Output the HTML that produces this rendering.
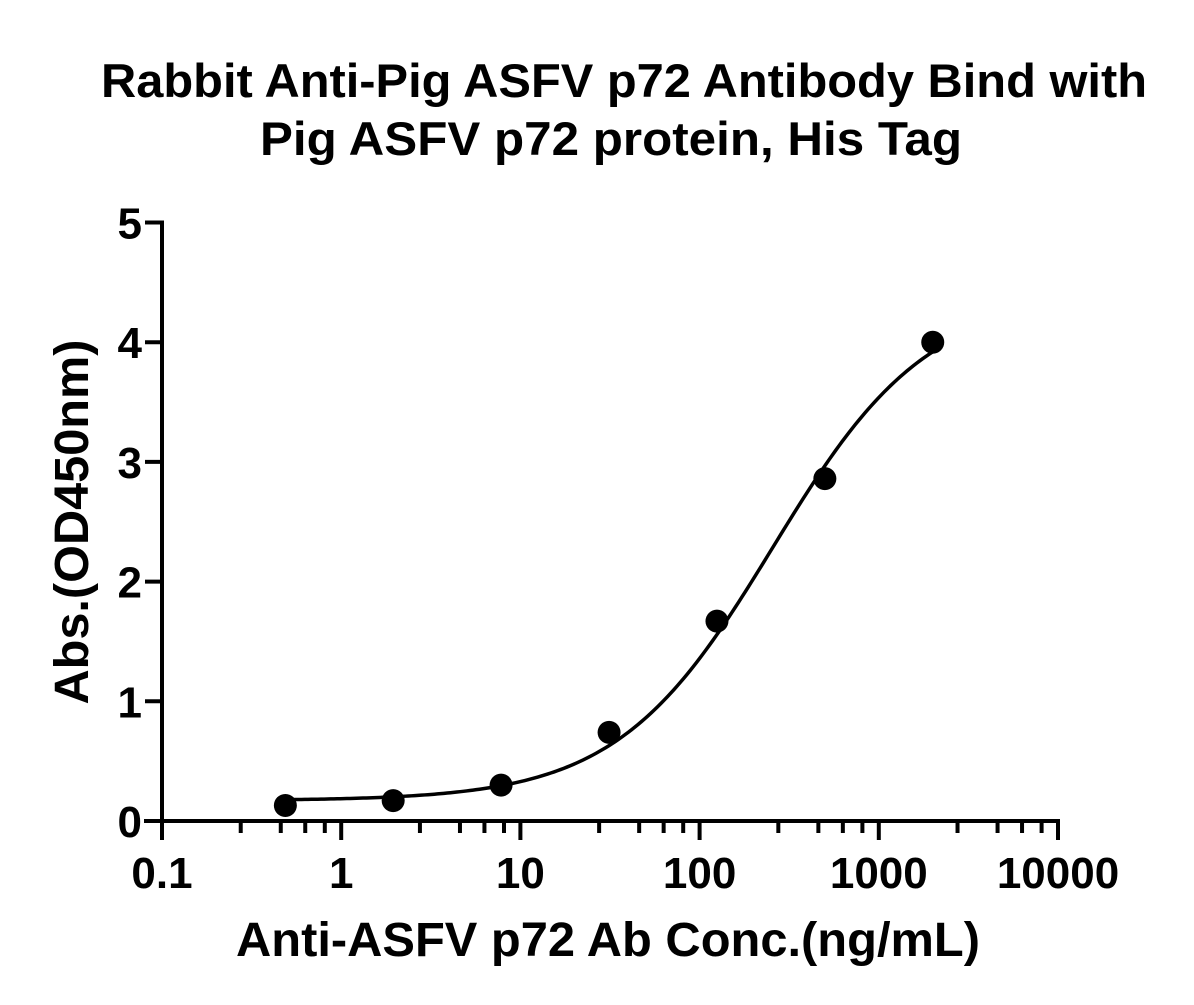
<!DOCTYPE html>
<html><head><meta charset="utf-8"><style>
body{margin:0;background:#fff;}
svg{display:block;font-family:"Liberation Sans",Arial,sans-serif;font-weight:bold;}
</style></head><body>
<svg id="chart" width="1194" height="1005" viewBox="0 0 1194 1005">
<text x="624" y="97" font-size="47" text-anchor="middle" textLength="1046" lengthAdjust="spacingAndGlyphs">Rabbit Anti-Pig ASFV p72 Antibody Bind with</text>
<text x="611" y="155" font-size="47" text-anchor="middle" textLength="702" lengthAdjust="spacingAndGlyphs">Pig ASFV p72 protein, His Tag</text>
<text x="608" y="956" font-size="48" text-anchor="middle" textLength="744" lengthAdjust="spacingAndGlyphs">Anti-ASFV p72 Ab Conc.(ng/mL)</text>
<text transform="translate(88,522) rotate(-90)" font-size="48" text-anchor="middle" textLength="365" lengthAdjust="spacingAndGlyphs">Abs.(OD450nm)</text>
<g id="axes"></g>
<g id="marks"></g>
</svg>
<script>
const xTickValues=[0.1,1,10,100,1000,10000];
const xTickLabels=["0.1","1","10","100","1000","10000"];
const xMinorMultipliers=[2.75,4.6,6.3,8.1];
const yTickValues=[0,1,2,3,4,5];
const concentrations=[0.488,1.95,7.8,31.25,125,500,2000];
const absorbances=[0.13,0.17,0.30,0.74,1.67,2.86,4.00];
const fitBottom=0.17, fitTop=4.4, fitEC50=256, fitHill=1.0;

const NS="http://www.w3.org/2000/svg";
const X0=162, DEC=179.2, Y0=821, YU=119.7;
function xs(v){return X0+Math.log10(v/0.1)*DEC;}
function ys(v){return Y0-v*YU;}
function mk(tag,attrs,parent){const e=document.createElementNS(NS,tag);for(const k in attrs)e.setAttribute(k,attrs[k]);parent.appendChild(e);return e;}
const axes=document.getElementById('axes'), marks=document.getElementById('marks');

let l=mk('line',{x1:X0,y1:ys(5)-2,x2:X0,y2:Y0+2,stroke:'#000','stroke-width':4},axes);


l=mk('line',{x1:X0-18,y1:Y0,x2:xs(10000)+2,y2:Y0,stroke:'#000','stroke-width':4},axes);



yTickValues.forEach(v=>{
  const t=mk('line',{x1:X0-17,y1:ys(v),x2:X0,y2:ys(v),stroke:'#000','stroke-width':4},axes);
  
  
  const tx=mk('text',{x:X0-20,y:ys(v)+16,'font-size':44,'text-anchor':'end'},axes);
  tx.textContent=String(v);
  
  
});
xTickValues.forEach((v,i)=>{
  const x=xs(v);
  const t=mk('line',{x1:x,y1:Y0,x2:x,y2:Y0+19,stroke:'#000','stroke-width':4},axes);
  
  
  const tx=mk('text',{x:x,y:Y0+67,'font-size':44,'text-anchor':'middle'},axes);
  tx.textContent=xTickLabels[i];
  
  
  if(i<xTickValues.length-1){
    xMinorMultipliers.forEach(m=>{
      const mx=xs(v*m);
      const mt=mk('line',{x1:mx,y1:Y0,x2:mx,y2:Y0+12,stroke:'#000','stroke-width':4},axes);
      
      
    });
  }
});

function fit(c){return fitBottom+(fitTop-fitBottom)/(1+Math.pow(fitEC50/c,fitHill));}
let d='';
const lo=Math.log10(concentrations[0]), hi=Math.log10(concentrations[concentrations.length-1]);
for(let i=0;i<=200;i++){const c=Math.pow(10,lo+(hi-lo)*i/200);d+=(i?'L':'M')+xs(c).toFixed(2)+','+ys(fit(c)).toFixed(2);}
const p=mk('path',{d:d,fill:'none',stroke:'#000','stroke-width':3.5},marks);


concentrations.forEach((c,i)=>{
  const pt=mk('circle',{cx:xs(c),cy:ys(absorbances[i]),r:11.5,fill:'#000'},marks);
  
  
});
</script>
</body></html>
